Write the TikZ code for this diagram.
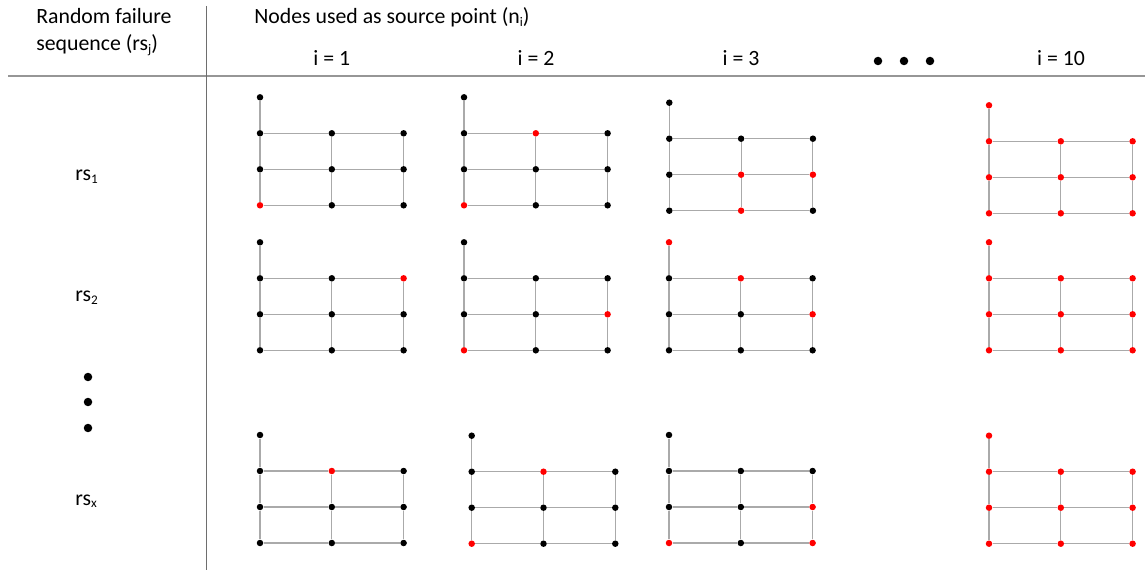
\documentclass[tikz,border=0pt]{standalone}
\usepackage{fontspec}
\setmainfont{Carlito}

\makeatletter
% \ifinlist{item}{a,b,c} ... \else ... \fi
\newcommand\ifinlist[2]{\edef\@tmpa{\noexpand\in@{,#1,}{,#2,}}\@tmpa\ifin@}
\makeatother

\newcommand\lowsub[1]{\raisebox{-0.12em}{\fontsize{7.5}{8}\selectfont #1}}

\tikzset{
  pt/.style={circle,inner sep=0pt,minimum size=0.13cm,draw=none},
  link/.style={draw={rgb,255:red,170;green,170;blue,170},line width=0.6pt},
  rule/.style={draw={rgb,255:red,150;green,150;blue,150},line width=0.9pt},
  vrule/.style={draw={rgb,255:red,110;green,110;blue,110},line width=0.8pt},
  lbl/.style={inner sep=0pt,font=\fontsize{12.4}{14}\selectfont},
  bigdot/.style={circle,fill=black,inner sep=0pt,minimum size=0.17cm},
}

% a single mesh point: #1 mesh, #2 id, #3 x, #4 y, #5 red ids
\newcommand\meshpt[5]{%
  \ifinlist{#2}{#5}\def\pc{red}\else\def\pc{black}\fi
  \node[pt,fill=\pc] (#1-#2) at (#3,#4) {};}

% one 3x3 mesh with an extra node above its top-left corner
% #1 name, #2 x, #3 y of the top-left mesh node, #4 red nodes
\newcommand\meshgrid[4]{%
  \begin{scope}[shift={(#2,#3)}]
    \meshpt{#1}{t}{0}{-36}{#4}
    \meshpt{#1}{11}{0}{0}{#4}
    \meshpt{#1}{12}{0}{36}{#4}
    \meshpt{#1}{13}{0}{72}{#4}
    \meshpt{#1}{21}{71.8}{0}{#4}
    \meshpt{#1}{22}{71.8}{36}{#4}
    \meshpt{#1}{23}{71.8}{72}{#4}
    \meshpt{#1}{31}{143.6}{0}{#4}
    \meshpt{#1}{32}{143.6}{36}{#4}
    \meshpt{#1}{33}{143.6}{72}{#4}
    \draw[link] (#1-t) -- (#1-11);
    \draw[link] (#1-11) -- (#1-21) -- (#1-31);
    \draw[link] (#1-12) -- (#1-22) -- (#1-32);
    \draw[link] (#1-13) -- (#1-23) -- (#1-33);
    \draw[link] (#1-11) -- (#1-12) -- (#1-13);
    \draw[link] (#1-21) -- (#1-22) -- (#1-23);
    \draw[link] (#1-31) -- (#1-32) -- (#1-33);
  \end{scope}}

\def\allred{t,11,12,13,21,22,23,31,32,33}

\begin{document}
\begin{tikzpicture}[x=0.02cm,y=-0.02cm]
\useasboundingbox (0,0) rectangle (1145,570);

% table rules
\coordinate (vtop) at (206.5,6);
\coordinate (vbot) at (206.5,570);
\coordinate (hleft) at (8,76);
\coordinate (hright) at (1145,76);
\draw[rule] (hleft) -- (hright);
\draw[vrule] (vtop) -- (vbot);

% headers
\node[lbl,anchor=base west] (hdA) at (36,24) {Random failure};
\node[lbl,anchor=base west] (hdB) at (36,51) {sequence (rs\lowsub{j})};
\node[lbl,anchor=base west] (hdC) at (254,24) {Nodes used as source point (n\lowsub{i})};

\node[lbl,anchor=base] (c1) at (331.8,66) {i = 1};
\node[lbl,anchor=base] (c2) at (536,66) {i = 2};
\node[lbl,anchor=base] (c3) at (741,66) {i = 3};
\node[lbl,anchor=base] (c10) at (1061,66) {i = 10};
\node[bigdot] (hd1) at (878,61) {};
\node[bigdot] (hd2) at (904,61) {};
\node[bigdot] (hd3) at (930,61) {};

% row labels
\node[lbl,anchor=base west] (r1) at (75,181) {rs\lowsub{1}};
\node[lbl,anchor=base west] (r2) at (75,302) {rs\lowsub{2}};
\node[lbl,anchor=base west] (rx) at (75,505) {rs\lowsub{x}};
\node[bigdot] (vd1) at (88,377) {};
\node[bigdot] (vd2) at (88,402) {};
\node[bigdot] (vd3) at (88,428) {};

% meshes, sequence rs1
\meshgrid{a1}{260}{133.3}{13}
\meshgrid{a2}{464}{133.3}{13,21}
\meshgrid{a3}{669.3}{138.7}{22,32,23}
\meshgrid{a10}{989}{141.3}{\allred}

% sequence rs2
\meshgrid{b1}{260}{278.3}{31}
\meshgrid{b2}{464}{278.3}{13,32}
\meshgrid{b3}{669}{278.3}{t,21,32}
\meshgrid{b10}{989}{278.3}{\allred}

% sequence rsx
\meshgrid{c1}{260}{471}{21}
\meshgrid{c2}{471.7}{471.7}{21,13}
\meshgrid{c3}{669}{471}{32,13,33}
\meshgrid{c10}{989}{471.7}{\allred}
\end{tikzpicture}
\end{document}
